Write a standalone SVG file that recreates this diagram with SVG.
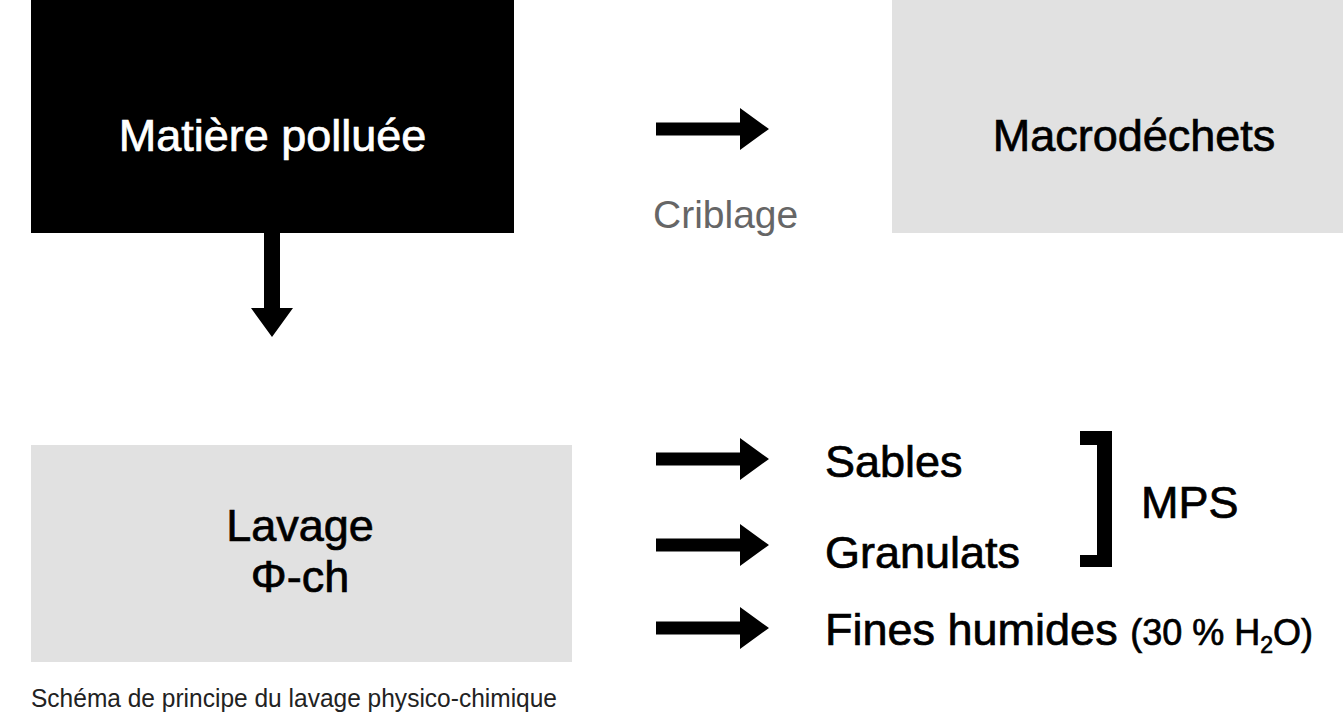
<svg xmlns="http://www.w3.org/2000/svg" width="1343" height="719" viewBox="0 0 1343 719">
<style>
.t{font-family:"Liberation Sans",Arial,sans-serif;font-size:45px;fill:#000;stroke:#000;stroke-width:0.7px}
.w{fill:#fff;stroke:#fff}
.g{fill:#e1e1e1}
</style>
<defs>
<path id="ah" d="M0,-6.5 H84 V-21 L113,0 L84,21 V6.5 H0 Z"/>
</defs>
<rect width="1343" height="719" fill="#fff"/>
<g id="n1">
<rect x="31" y="0" width="483" height="233" fill="#000"/>
<text class="t w" x="272.5" y="151" text-anchor="middle">Matière polluée</text>
</g>
<g id="n2">
<rect class="g" x="892" y="0" width="451" height="233"/>
<text class="t" x="1134" y="151" text-anchor="middle">Macrodéchets</text>
</g>
<g id="n3">
<rect class="g" x="31" y="445" width="541" height="217"/>
<text class="t" x="300" y="541" text-anchor="middle">Lavage</text>
<text class="t" x="300" y="592" text-anchor="middle">Φ-ch</text>
</g>
<g id="n4"><text class="t" x="825" y="477">Sables</text></g>
<g id="n5"><text class="t" x="825" y="568">Granulats</text></g>
<g id="n6"><text class="t" x="825" y="645">Fines humides <tspan font-size="36">(30 % H</tspan><tspan font-size="23" dy="8">2</tspan><tspan font-size="36" dy="-8">O)</tspan></text></g>
<g id="n7">
<path d="M1080,431 H1112 V567 H1080 V555 H1097 V445 H1080 Z" fill="#000"/>
<text class="t" x="1141" y="518">MPS</text>
</g>
<g id="connectors">
<use href="#ah" x="656" y="129"/>
<text x="653" y="228" font-family="Liberation Sans,Arial,sans-serif" font-size="39" fill="#666">Criblage</text>
<path d="M264,233 H280 V308 H293 L272,337 L251,308 H264 Z" fill="#000"/>
<use href="#ah" x="656" y="459"/>
<use href="#ah" x="656" y="545"/>
<use href="#ah" x="656" y="628"/>
</g>
<text x="31" y="707" font-family="Liberation Sans,Arial,sans-serif" font-size="26" fill="#222" textLength="526" lengthAdjust="spacingAndGlyphs">Schéma de principe du lavage physico-chimique</text>
</svg>
